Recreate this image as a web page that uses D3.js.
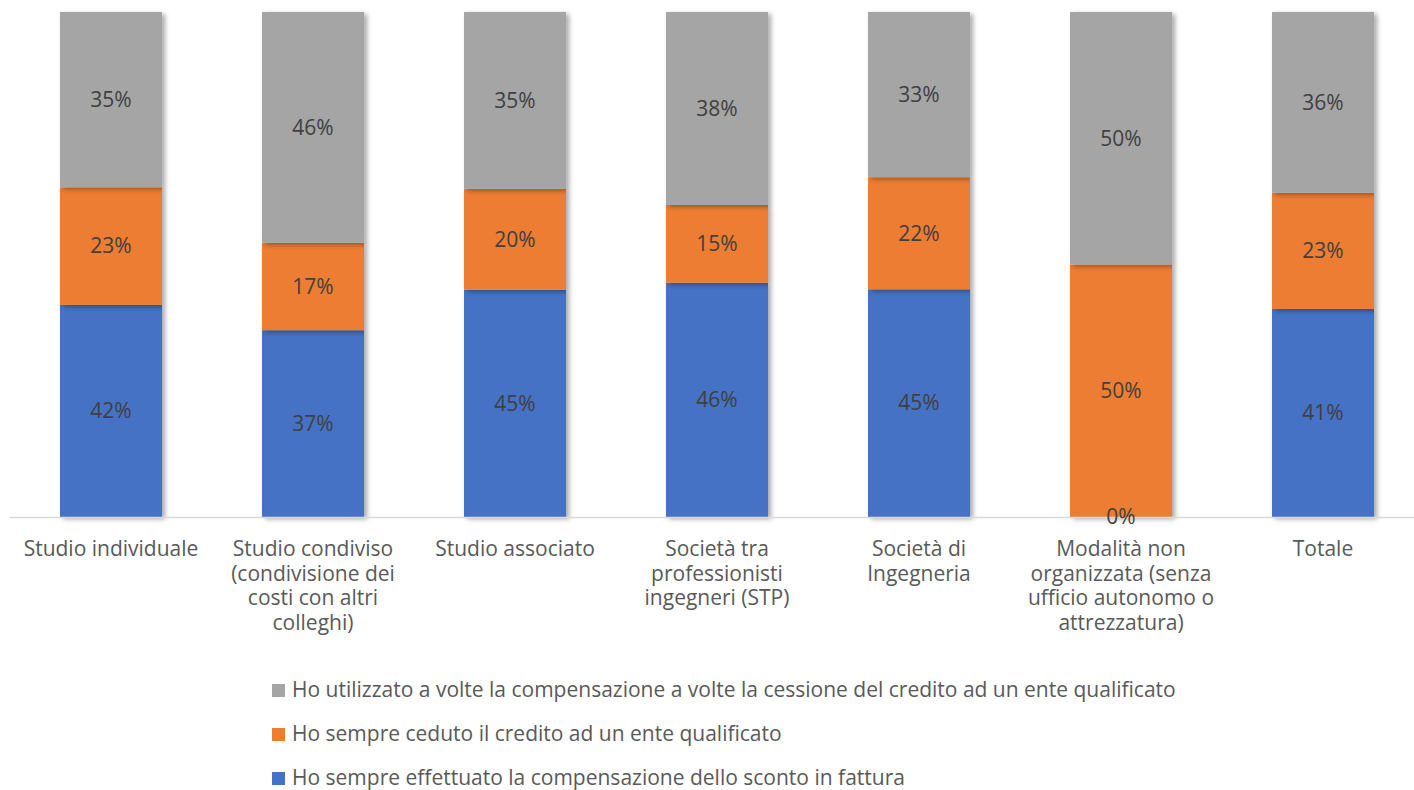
<!DOCTYPE html>
<html>
<head>
<meta charset="utf-8">
<script src="https://cdn.jsdelivr.net/npm/d3@7"></script>
<style>
  body { margin: 0; background: #fff; }
  text { font-family: "Open Sans", "Noto Sans", sans-serif; }
</style>
</head>
<body>
<div id="chart"></div>
<script>
const width = 1414, height = 790;
const fs = 21;

// categories (each entry = lines of the wrapped label)
const categories = [
  ["Studio individuale"],
  ["Studio condiviso", "(condivisione dei", "costi con altri", "colleghi)"],
  ["Studio associato"],
  ["Società tra", "professionisti", "ingegneri (STP)"],
  ["Società di", "Ingegneria"],
  ["Modalità non", "organizzata (senza", "ufficio autonomo o", "attrezzatura)"],
  ["Totale"]
];

// series values (percent)
const compensazione = [42, 37, 45, 46.4, 45.1, 0, 41.2];
const ceduto        = [23.3, 17.3, 20, 15.4, 22.2, 50, 23];
const aVolte        = [34.7, 45.7, 35, 38.2, 32.7, 50, 35.8];

const seriesNames = [
  "Ho sempre effettuato la compensazione dello sconto in fattura",
  "Ho sempre ceduto il credito ad un ente qualificato",
  "Ho utilizzato a volte la compensazione a volte la cessione del credito ad un ente qualificato"
];
const seriesColors = ["#4472c4", "#ed7d31", "#a5a5a5"];

const keys = ["s0", "s1", "s2"];
const rows = categories.map((c, i) => ({
  idx: i, s0: compensazione[i], s1: ceduto[i], s2: aVolte[i]
}));
const stacked = d3.stack().keys(keys)(rows);

const svg = d3.select("#chart").append("svg")
  .attr("width", width).attr("height", height);

const defs = svg.append("defs");
const f = defs.append("filter").attr("id", "shadow")
  .attr("x", "-10%").attr("y", "-10%").attr("width", "130%").attr("height", "130%");
f.append("feDropShadow").attr("dx", 3).attr("dy", 2).attr("stdDeviation", 2.5)
  .attr("flood-color", "#000").attr("flood-opacity", 0.35);

const x = d3.scaleBand()
  .domain(d3.range(categories.length))
  .range([10, 1424])
  .paddingInner(0.495)
  .paddingOuter(0.2475);

const y = d3.scaleLinear().domain([0, 100]).range([517, 12]);

// bars
const barsG = svg.append("g");
stacked.forEach((layer, si) => {
  barsG.append("g")
    .attr("fill", seriesColors[si])
    .selectAll("rect")
    .data(layer)
    .join("rect")
    .attr("x", d => x(d.data.idx))
    .attr("width", x.bandwidth())
    .attr("y", d => y(d[1]))
    .attr("height", d => y(d[0]) - y(d[1]))
    .attr("filter", d => d[1] - d[0] > 0 ? "url(#shadow)" : null);
});

// baseline
svg.append("line")
  .attr("x1", 10).attr("x2", 1414)
  .attr("y1", y(0) + 0.5).attr("y2", y(0) + 0.5)
  .attr("stroke", "#d9d9d9").attr("stroke-width", 1.5);

// data labels
stacked.forEach(layer => {
  svg.append("g").selectAll("text")
    .data(layer)
    .join("text")
    .attr("x", d => x(d.data.idx) + x.bandwidth() / 2)
    .attr("y", d => (y(d[0]) + y(d[1])) / 2)
    .attr("dy", "0.35em")
    .attr("text-anchor", "middle")
    .attr("font-size", fs)
    .attr("fill", "#404040")
    .text(d => Math.round(d[1] - d[0]) + "%");
});

// category labels
svg.append("g").selectAll("text")
  .data(categories)
  .join("text")
  .attr("text-anchor", "middle")
  .attr("font-size", fs)
  .attr("fill", "#595959")
  .each(function(lines, i) {
    d3.select(this).selectAll("tspan")
      .data(lines)
      .join("tspan")
      .attr("x", x(i) + x.bandwidth() / 2)
      .attr("y", (l, j) => 556 + j * 24.5)
      .text(l => l);
  });

// legend (reverse order)
const legendOrder = [2, 1, 0];
const leg = svg.append("g").selectAll("g")
  .data(legendOrder)
  .join("g")
  .attr("transform", (d, i) => `translate(272, ${690 + i * 44})`);
leg.append("rect")
  .attr("x", 0).attr("y", -6).attr("width", 13).attr("height", 13)
  .attr("fill", d => seriesColors[d]);
leg.append("text")
  .attr("x", 20).attr("dy", "0.35em")
  .attr("font-size", fs)
  .attr("fill", "#595959")
  .text(d => seriesNames[d]);
</script>
</body>
</html>
